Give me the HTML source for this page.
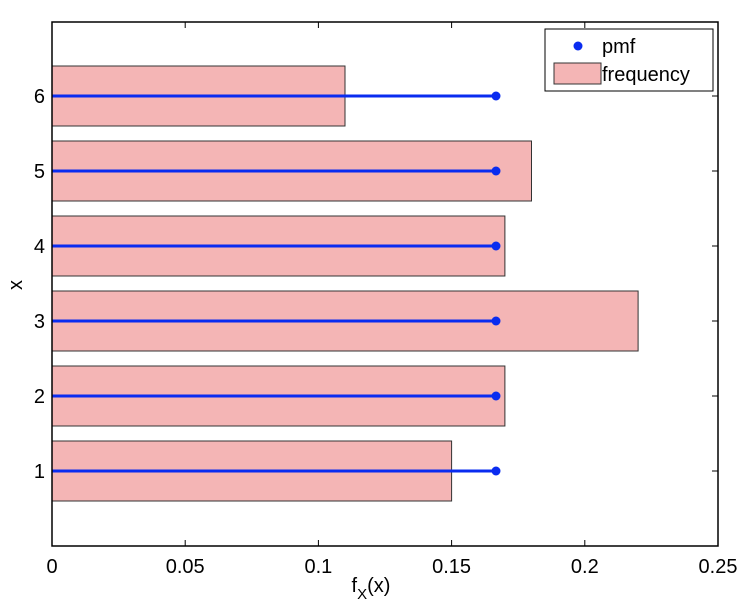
<!DOCTYPE html>
<html><head><style>body{margin:0;background:#fff}svg{display:block}</style></head><body>
<svg width="748" height="616" xmlns="http://www.w3.org/2000/svg" font-family="Liberation Sans, Arial, sans-serif">
<rect width="748" height="616" fill="#fff"/>
<g fill="#f4b5b5" stroke="#333" stroke-width="1">
<rect x="52" y="441" width="399.6" height="60"/>
<rect x="52" y="366" width="452.9" height="60"/>
<rect x="52" y="291" width="586.1" height="60"/>
<rect x="52" y="216" width="452.9" height="60"/>
<rect x="52" y="141" width="479.5" height="60"/>
<rect x="52" y="66" width="293" height="60"/>
</g>
<g stroke="#0a2cf0" stroke-width="3">
<line x1="52" y1="471" x2="496" y2="471"/><line x1="52" y1="396" x2="496" y2="396"/>
<line x1="52" y1="321" x2="496" y2="321"/><line x1="52" y1="246" x2="496" y2="246"/>
<line x1="52" y1="171" x2="496" y2="171"/><line x1="52" y1="96" x2="496" y2="96"/>
</g>
<g fill="#0a2cf0">
<circle cx="496" cy="471" r="4.5"/><circle cx="496" cy="396" r="4.5"/><circle cx="496" cy="321" r="4.5"/>
<circle cx="496" cy="246" r="4.5"/><circle cx="496" cy="171" r="4.5"/><circle cx="496" cy="96" r="4.5"/>
</g>
<rect x="52" y="22" width="666" height="524" fill="none" stroke="#000" stroke-width="1.5"/>
<g stroke="#000" stroke-width="1">
<line x1="185.2" y1="546" x2="185.2" y2="540"/><line x1="318.4" y1="546" x2="318.4" y2="540"/>
<line x1="451.6" y1="546" x2="451.6" y2="540"/><line x1="584.8" y1="546" x2="584.8" y2="540"/>
<line x1="185.2" y1="22" x2="185.2" y2="28"/><line x1="318.4" y1="22" x2="318.4" y2="28"/>
<line x1="451.6" y1="22" x2="451.6" y2="28"/><line x1="584.8" y1="22" x2="584.8" y2="28"/>
<line x1="712" y1="471" x2="718" y2="471"/><line x1="712" y1="396" x2="718" y2="396"/>
<line x1="712" y1="321" x2="718" y2="321"/><line x1="712" y1="246" x2="718" y2="246"/>
<line x1="712" y1="171" x2="718" y2="171"/><line x1="712" y1="96" x2="718" y2="96"/>
</g>
<g font-size="20" fill="#000" text-anchor="middle">
<text x="52" y="573">0</text><text x="185.2" y="573">0.05</text><text x="318.4" y="573">0.1</text>
<text x="451.6" y="573">0.15</text><text x="584.8" y="573">0.2</text><text x="718" y="573">0.25</text>
</g>
<g font-size="20" fill="#000" text-anchor="end">
<text x="45" y="478">1</text><text x="45" y="403">2</text><text x="45" y="328">3</text>
<text x="45" y="253">4</text><text x="45" y="178">5</text><text x="45" y="103">6</text>
</g>
<text x="371" y="592" font-size="20" text-anchor="middle">f<tspan font-size="15" dy="7">X</tspan><tspan dy="-7">(x)</tspan></text>
<text x="22" y="285" font-size="20" text-anchor="middle" transform="rotate(-90 22 285)">x</text>
<rect x="545" y="29" width="168" height="62" fill="#fff" stroke="#000" stroke-width="1"/>
<circle cx="578" cy="46" r="4.5" fill="#0a2cf0"/>
<text x="602" y="53" font-size="20">pmf</text>
<rect x="554" y="63" width="47" height="21" fill="#f4b5b5" stroke="#333"/>
<text x="602" y="81" font-size="20">frequency</text>
</svg>
</body></html>
